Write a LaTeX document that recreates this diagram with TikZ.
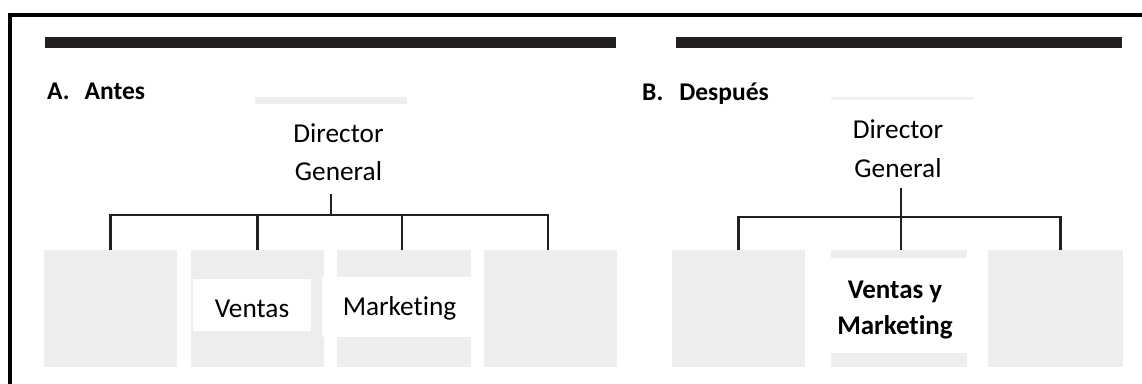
\documentclass[tikz,border=0pt]{standalone}
\usepackage{fontspec}
\setmainfont{Carlito}[Ligatures=NoCommon]
\definecolor{ink}{HTML}{231F20}
\definecolor{boxgray}{HTML}{EDEDED}
\definecolor{capgray}{HTML}{EEEEEE}
\begin{document}
\begin{tikzpicture}[x=1pt,y=-1pt,
  unit/.style={fill=boxgray, inner sep=0pt, anchor=north west,
               minimum height=117pt, minimum width=#1},
  wire/.style={draw=ink, line width=2.8pt, line join=miter},
  thinwire/.style={draw=ink, line width=2pt, line join=miter},
  chief/.style={inner sep=0pt, align=center,
                font=\fontsize{27.3pt}{38.5pt}\selectfont},
  dept/.style={fill=white, inner sep=0pt, text depth=0pt,
               font=\fontsize{27.3pt}{32pt}\selectfont},
  heading/.style={inner sep=0pt, anchor=base west,
                  font=\fontsize{25.5pt}{30pt}\selectfont\bfseries}]
\useasboundingbox (0,0) rectangle (1142,383);

% outer frame and header bars
\draw[line width=3.5pt, line join=miter] (10,385) -- (10,15) -- (1144,15);
\fill[ink] (45,37) rectangle (616,48);
\fill[ink] (676,37) rectangle (1122,48);

% ---------- A. Antes ----------
\node[heading] (tA) at (47,99) {A.\hspace{15pt}Antes};
\fill[capgray] (255,97) rectangle (407,104);
\node[chief] (dgA) at (338.5,152) {Director\\General};

\node[unit=133pt] (bA1) at (44,250) {};
\node[unit=133pt] (bA2) at (191,250) {};
\node[unit=134pt] (bA3) at (337,250) {};
\node[unit=133pt] (bA4) at (484,250) {};

\node[dept, minimum width=118pt, minimum height=52pt, text height=24pt]
  (vA) at (252,305) {Ventas};
\node[dept, minimum width=155pt, minimum height=60pt, text height=16pt]
  (mA) at (399.5,307) {Marketing};

\coordinate (jA) at (331,215);
\draw[wire] ([yshift=-13pt]dgA.south -| jA) -- (jA);
\draw[wire] (bA1.north) |- (jA);
\draw[wire] (bA2.north) -- (bA2.north |- jA);
\draw[thinwire] ([xshift=-1.8pt]bA3.north) -- ([xshift=-1.8pt]bA3.north |- jA);
\draw[thinwire] ([xshift=-2.5pt]bA4.north) |- (jA);

% ---------- B. Después ----------
\node[heading] (tB) at (642,100) {B.\hspace{16pt}Después};
\fill[capgray!80] (831,97) rectangle (974,100);
\node[chief] (dgB) at (898,148.5) {Director\\General};

\node[unit=133pt] (bB1) at (672,250) {};
\node[unit=136pt] (bB2) at (831,250) {};
\node[unit=135pt] (bB3) at (988,250) {};

\node[fill=white, inner sep=0pt, minimum width=136pt, minimum height=95pt]
  (bandB) at (899,305.5) {};
\node[inner sep=0pt, align=center,
      font=\fontsize{27pt}{36pt}\selectfont\bfseries]
  (vmB) at (895,310.5) {Ventas y\\Marketing};

\coordinate (jB) at (901,217);
\draw[wire] ([yshift=-11pt]dgB.south -| jB) -- (jB |- bB2.north);
\draw[wire] (bB1.north) |- (jB);
\draw[wire] ([xshift=4.5pt]bB3.north) |- (jB);
\end{tikzpicture}
\end{document}
